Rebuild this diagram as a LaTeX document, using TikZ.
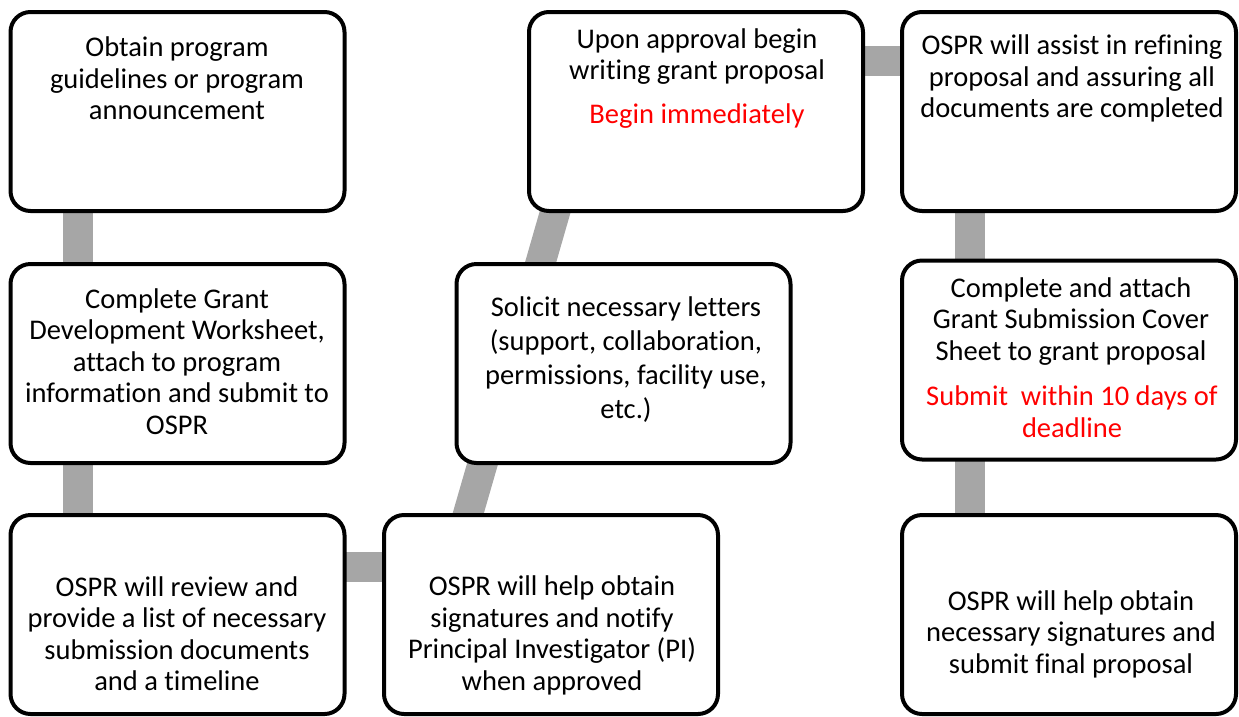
\documentclass[tikz,border=0pt]{standalone}
\usepackage{fontspec}
\setmainfont{Carlito}[Ligatures=NoCommon]
\usetikzlibrary{calc,backgrounds}
\definecolor{bargray}{RGB}{166,166,166}
\definecolor{alertred}{RGB}{255,0,0}
\begin{document}
\begin{tikzpicture}[x=1pt,y=-1pt,
  box/.style={draw=black, line width=4pt, rounded corners=20pt, fill=white,
    minimum width=334pt, minimum height=199pt, inner sep=0pt},
  bar/.style={draw=bargray, line width=30pt},
  txt/.style={align=center, font=\fontsize{28.5}{31.5}\selectfont, inner sep=0pt, text=black},
  alerttxt/.style={txt, text=alertred}
]
\useasboundingbox (0,0) rectangle (1239,716);

% boxes
\node[box] (A) at (177.5,111.5) {};
\node[box] (B) at (177.5,363.5) {};
\node[box] (C) at (177.5,614.5) {};
\node[box] (D) at (551,614.5) {};
\node[box] (E) at (623.5,363.5) {};
\node[box] (F) at (696,111.5) {};
\node[box] (G) at (1069,111.5) {};
\node[box] (H) at (1069,360) {};
\node[box] (I) at (1069,614.5) {};

% connectors behind boxes
\begin{pgfonlayer}{background}
\draw[bar] ($(A.center)+(-99.5,0)$) -- ($(B.center)+(-99.5,0)$);
\draw[bar] ($(B.center)+(-99.5,0)$) -- ($(C.center)+(-99.5,0)$);
\draw[bar] ($(C.center)+(0,-47.5)$) -- ($(D.center)+(0,-47.5)$);
\draw[bar] ($(D.west)+(57,0)$) -- ($(E.west)+(57,0)$);
\draw[bar] ($(E.west)+(57,0)$) -- ($(F.west)+(57,0)$);
\draw[bar] ($(F.center)+(0,-50.5)$) -- ($(G.center)+(0,-50.5)$);
\draw[bar] ($(G.center)+(-99,0)$) -- ($(H.center)+(-99,0)$);
\draw[bar] ($(H.center)+(-99,0)$) -- ($(I.center)+(-99,0)$);
\end{pgfonlayer}

% texts
\node[txt] (At) at (177,78.5) {Obtain program\\guidelines or program\\announcement};
\node[txt] (Bt) at (177,361.5) {Complete Grant\\Development Worksheet,\\attach to program\\information and submit to\\OSPR};
\node[txt] (Ct) at (177,633.5) {OSPR will review and\\provide a list of necessary\\submission documents\\and a timeline};
\node[txt] (Dt) at (552,635.5) {OSPR will help obtain\\signatures and notify\\Principal Investigator (PI)\\when approved};
\node[txt, font=\fontsize{28.5}{34}\selectfont] (Et) at (626,360) {Solicit necessary letters\\(support, collaboration,\\permissions, facility use,\\etc.)};
\node[txt] (Ft) at (697,56.5) {Upon approval begin\\writing grant proposal};
\node[alerttxt] (Fr) at (697,116) {Begin immediately};
\node[txt] (Gt) at (1072,78.5) {OSPR will assist in refining\\proposal and assuring all\\documents are completed};
\node[txt] (Ht) at (1071,321.5) {Complete and attach\\Grant Submission Cover\\Sheet to grant proposal};
\node[alerttxt] (Hr) at (1072,411.5) {Submit\ \ within 10 days of\\deadline};
\node[txt] (It) at (1071,634) {OSPR will help obtain\\necessary signatures and\\submit final proposal};
\end{tikzpicture}
\end{document}
